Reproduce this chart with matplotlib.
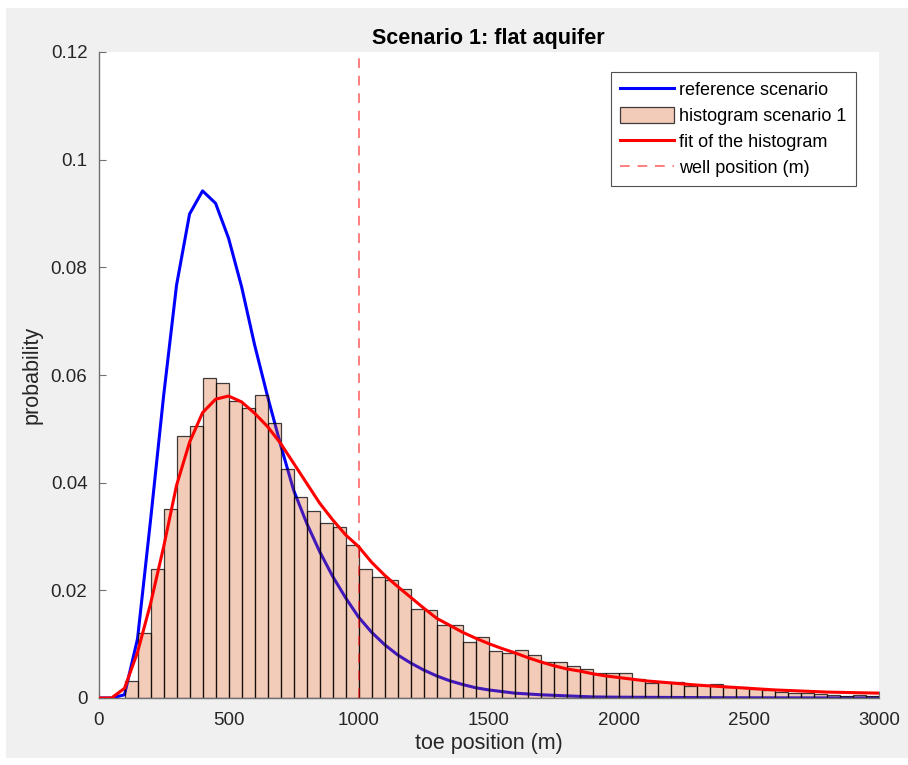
import numpy as np
import matplotlib
matplotlib.use("Agg")
import matplotlib.pyplot as plt
from matplotlib.patches import Rectangle

plt.rcParams['font.family'] = ['Liberation Sans', 'DejaVu Sans']

# Histogram of toe positions: 50 m bins from 100 m to 3000 m
bin_edges = np.arange(100, 3001, 50)
hist_prob = [0.0032, 0.0120, 0.0240, 0.0352, 0.0487, 0.0505, 0.0594, 0.0585, 0.0552, 0.0539,
             0.0563, 0.0510, 0.0425, 0.0374, 0.0348, 0.0326, 0.0318, 0.0284, 0.0240, 0.0225,
             0.0220, 0.0203, 0.0166, 0.0163, 0.0136, 0.0135, 0.0104, 0.0113, 0.0088, 0.0083,
             0.0090, 0.0079, 0.0067, 0.0066, 0.0059, 0.0053, 0.0047, 0.0046, 0.0047, 0.0035,
             0.0027, 0.0030, 0.0030, 0.0022, 0.0024, 0.0026, 0.0020, 0.0021, 0.0017, 0.0014,
             0.0011, 0.0010, 0.0009, 0.0007, 0.0006, 0.0004, 0.0005, 0.0004]

# Reference scenario distribution, sampled every 50 m
ref_x = [0, 50, 100, 150, 200, 250, 300, 350, 400, 450, 500, 550, 600, 650, 700, 750, 800,
         850, 900, 950, 1000, 1050, 1100, 1150, 1200, 1250, 1300, 1350, 1400, 1450, 1500,
         1550, 1600, 1700, 1800, 1900, 2000, 2200, 2400, 2600, 2800, 3000]
ref_p = [0, 0, 0.0006, 0.011, 0.033, 0.056, 0.0767, 0.0899, 0.0942, 0.0919, 0.0854, 0.0764,
         0.0656, 0.056, 0.047, 0.0386, 0.0325, 0.0272, 0.0226, 0.0186, 0.0150, 0.0122, 0.0099,
         0.0080, 0.0065, 0.0052, 0.0041, 0.0032, 0.0025, 0.0019, 0.0015, 0.0012, 0.0009,
         0.0006, 0.0004, 0.0002, 0.00015, 0.0001, 0.00005, 0.00003, 0.00002, 0.00001]

# Fitted density of the histogram
fit_x = [0, 50, 100, 150, 200, 250, 300, 350, 400, 450, 500, 550, 600, 650, 700, 750, 800,
         850, 900, 950, 1000, 1050, 1100, 1150, 1200, 1250, 1300, 1350, 1400, 1450, 1500,
         1550, 1600, 1650, 1700, 1750, 1800, 1850, 1900, 1950, 2000, 2100, 2200, 2300, 2400,
         2500, 2600, 2700, 2800, 2900, 3000]
fit_p = [0, 0, 0.0018, 0.0085, 0.0175, 0.0280, 0.0395, 0.0475, 0.0530, 0.0555, 0.0561, 0.0550,
         0.0529, 0.0504, 0.0473, 0.0436, 0.0399, 0.0362, 0.0331, 0.0303, 0.0281, 0.0252, 0.0228,
         0.0207, 0.0187, 0.0167, 0.0148, 0.0135, 0.0122, 0.0111, 0.0101, 0.0092, 0.0084, 0.0075,
         0.0067, 0.0060, 0.0054, 0.0050, 0.0045, 0.0041, 0.0038, 0.0032, 0.0028, 0.0024, 0.0021,
         0.0018, 0.0015, 0.0013, 0.0011, 0.0010, 0.0009]

well_position = 1000
x_ticks = [0, 500, 1000, 1500, 2000, 2500, 3000]
y_ticks = [0, 0.02, 0.04, 0.06, 0.08, 0.1, 0.12]
y_tick_labels = ['0', '0.02', '0.04', '0.06', '0.08', '0.1', '0.12']

W, H = 908, 765
fig = plt.figure(figsize=(W / 100, H / 100), dpi=100, facecolor='white')
# grey figure panel with a thin white margin
fig.patches.append(Rectangle((6 / W, 7 / H), 902 / W, 750 / H, transform=fig.transFigure,
                             facecolor='#f0f0f0', edgecolor='none', zorder=-10))

ax = fig.add_axes([98.5 / W, 1 - 698 / H, (879 - 98.5) / W, (698 - 52) / H])
ax.set_facecolor('white')

h_ref, = ax.plot(ref_x, ref_p, color=(0, 0, 1), lw=2.2, label='reference scenario', zorder=1)
h_hist = ax.bar(bin_edges[:-1], hist_prob, width=50, align='edge',
                color=(0.85, 0.325, 0.098, 0.3), edgecolor=(0, 0, 0, 0.75), linewidth=0.9,
                label='histogram scenario 1', zorder=2)
h_fit, = ax.plot(fit_x, fit_p, color=(1, 0, 0), lw=2.2, label='fit of the histogram', zorder=3)
h_well = ax.axvline(well_position, color=(1, 0, 0, 0.5), lw=1.4, ls=(0, (5, 4)),
                    label='well position (m)', zorder=4)

ax.set_xlim(0, 3000)
ax.set_ylim(0, 0.12)
ax.set_xticks(x_ticks)
ax.set_xticklabels([str(t) for t in x_ticks])
ax.set_yticks(y_ticks)
ax.set_yticklabels(y_tick_labels)

for side in ('top', 'right'):
    ax.spines[side].set_visible(False)
for side in ('left', 'bottom'):
    ax.spines[side].set_color('#707070')
    ax.spines[side].set_linewidth(1.0)
ax.tick_params(direction='in', length=5, width=0.8, colors='#707070',
               labelcolor='#262626', labelsize=13.5)
ax.tick_params(axis='x', pad=10)
ax.tick_params(axis='y', pad=8)

ax.set_title('Scenario 1: flat aquifer', fontsize=15.5, fontweight='bold',
             color='black', pad=6)
ax.set_xlabel('toe position (m)', fontsize=15.5, color='#262626', labelpad=3)
ax.set_ylabel('probability', fontsize=15.5, color='#262626', labelpad=6)

leg = ax.legend([h_ref, h_hist, h_fit, h_well],
                ['reference scenario', 'histogram scenario 1', 'fit of the histogram',
                 'well position (m)'],
                loc='upper right', bbox_to_anchor=(0.97, 0.969), fontsize=13,
                frameon=True, fancybox=False, borderpad=0.5, labelspacing=0.42,
                handlelength=3.0, handleheight=1.0, handletextpad=0.3, borderaxespad=0)
leg.get_frame().set_edgecolor('#262626')
leg.get_frame().set_linewidth(0.8)

fig.savefig('out.png', dpi=100, facecolor=fig.get_facecolor())
